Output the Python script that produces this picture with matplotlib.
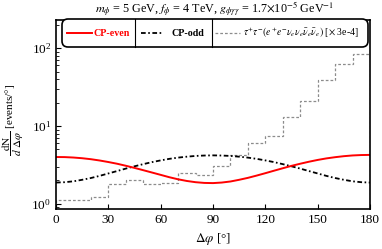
import matplotlib
matplotlib.use('Agg')
import numpy as np
from matplotlib import pyplot as plt
from matplotlib.patches import FancyBboxPatch
from matplotlib.lines import Line2D

plt.rcParams['font.family'] = ['Liberation Serif', 'DejaVu Serif']
plt.rcParams['mathtext.fontset'] = 'stix'

# angles for the smooth curves (deg)
phi = list(range(0, 181, 5))
cp_even = [4.00, 3.99, 3.94, 3.86, 3.75, 3.61, 3.45, 3.28, 3.09, 2.90,
           2.71, 2.53, 2.36, 2.20, 2.07, 1.97, 1.90, 1.86, 1.85, 1.88,
           1.94, 2.04, 2.16, 2.31, 2.48, 2.67, 2.87, 3.08, 3.28, 3.48,
           3.67, 3.84, 3.98, 4.10, 4.19, 4.24, 4.26]
cp_odd = [1.88, 1.90, 1.95, 2.04, 2.15, 2.29, 2.46, 2.64, 2.84, 3.04,
          3.24, 3.44, 3.62, 3.79, 3.93, 4.04, 4.13, 4.18, 4.20, 4.18,
          4.13, 4.04, 3.93, 3.79, 3.62, 3.44, 3.24, 3.04, 2.84, 2.64,
          2.46, 2.29, 2.15, 2.04, 1.95, 1.90, 1.88]

# background histogram (scaled by 3e-4)
bin_edges = list(range(0, 181, 10))
bkg = [1.13, 1.13, 1.23, 1.80, 2.03, 1.80, 1.86, 2.50, 2.35, 3.07,
       4.25, 6.05, 7.4, 13.0, 21.0, 39.0, 62.0, 84.0]

x_ticks = [0, 30, 60, 90, 120, 150, 180]

red = '#ff0000'
gray = '#8c8c8c'
dashdot = (0, (2.6, 1.4, 0.9, 1.4))
dotted = (0, (2.2, 1.6))

fig = plt.figure(figsize=(3.82, 2.49), dpi=100)
ax = fig.add_axes([56 / 382, 1 - 209 / 249, 314 / 382, 189 / 249])

ax.stairs(bkg, bin_edges, color=gray, lw=0.9, ls=dotted)
ax.plot(phi, cp_odd, color='black', lw=1.3, ls=dashdot)
ax.plot(phi, cp_even, color=red, lw=1.4)

ax.set_yscale('log')
ax.set_xlim(0, 180)
ax.set_ylim(0.86, 230)
ax.set_xticks(x_ticks)
ax.tick_params(axis='both', which='both', direction='in', labelsize=9.5,
               top=False, right=False)
ax.tick_params(axis='both', which='major', length=3.5, width=0.8)
ax.tick_params(axis='y', which='minor', length=2, width=0.6)
for s in ax.spines.values():
    s.set_linewidth(1.2)

ax.set_xlabel(r'$\Delta\varphi$ [°]', fontsize=9.5, labelpad=4)
ax.set_ylabel(r'$\dfrac{\mathrm{dN}}{d\ \Delta\varphi}$ [events/°]', fontsize=8)
ax.yaxis.set_label_coords(-0.095, 0.47)

fig.text(215 / 382, 1 - 9 / 249,
         r'$m_{\phi}$ = 5 GeV, $f_{\phi}$ = 4 TeV, $g_{\phi\gamma\gamma}$ = 1.7$\times$10$^{-5}$ GeV$^{-1}$',
         ha='center', va='center', fontsize=8.7)

# legend box (inches)
tr = fig.dpi_scale_trans
box = FancyBboxPatch((0.62, 2.02), 3.06, 0.28,
                     boxstyle='round,pad=0,rounding_size=0.06',
                     fc='white', ec='black', lw=1.2, transform=tr, zorder=5)
fig.add_artist(box)
for xs in [1.35, 2.12]:
    fig.add_artist(Line2D([xs, xs], [2.02, 2.30], color='black', lw=0.8, transform=tr, zorder=6))
yc = 2.16
fig.add_artist(Line2D([0.67, 0.92], [yc, yc], color=red, lw=1.4, transform=tr, zorder=6))
fig.text(0.94, yc, 'CP-even', color=red, fontweight='bold', fontsize=7.2,
         va='center', transform=tr, zorder=6)
fig.add_artist(Line2D([1.41, 1.63], [yc, yc], color='black', lw=1.3, ls=dashdot, transform=tr, zorder=6))
fig.text(1.72, yc, 'CP-odd', color='black', fontweight='bold', fontsize=7.2,
         va='center', transform=tr, zorder=6)
fig.add_artist(Line2D([2.15, 2.40], [yc, yc], color=gray, lw=0.9, ls=dotted, transform=tr, zorder=6))
fig.text(2.43, yc,
         r'$\tau^{+}\tau^{-}(e^{+}e^{-}\nu_{e}\nu_{e}\bar{\nu}_{e}\bar{\nu}_{e})$ [$\times$ 3e-4]',
         fontsize=7, va='center', transform=tr, zorder=6)

fig.savefig('out.png', dpi=100)
